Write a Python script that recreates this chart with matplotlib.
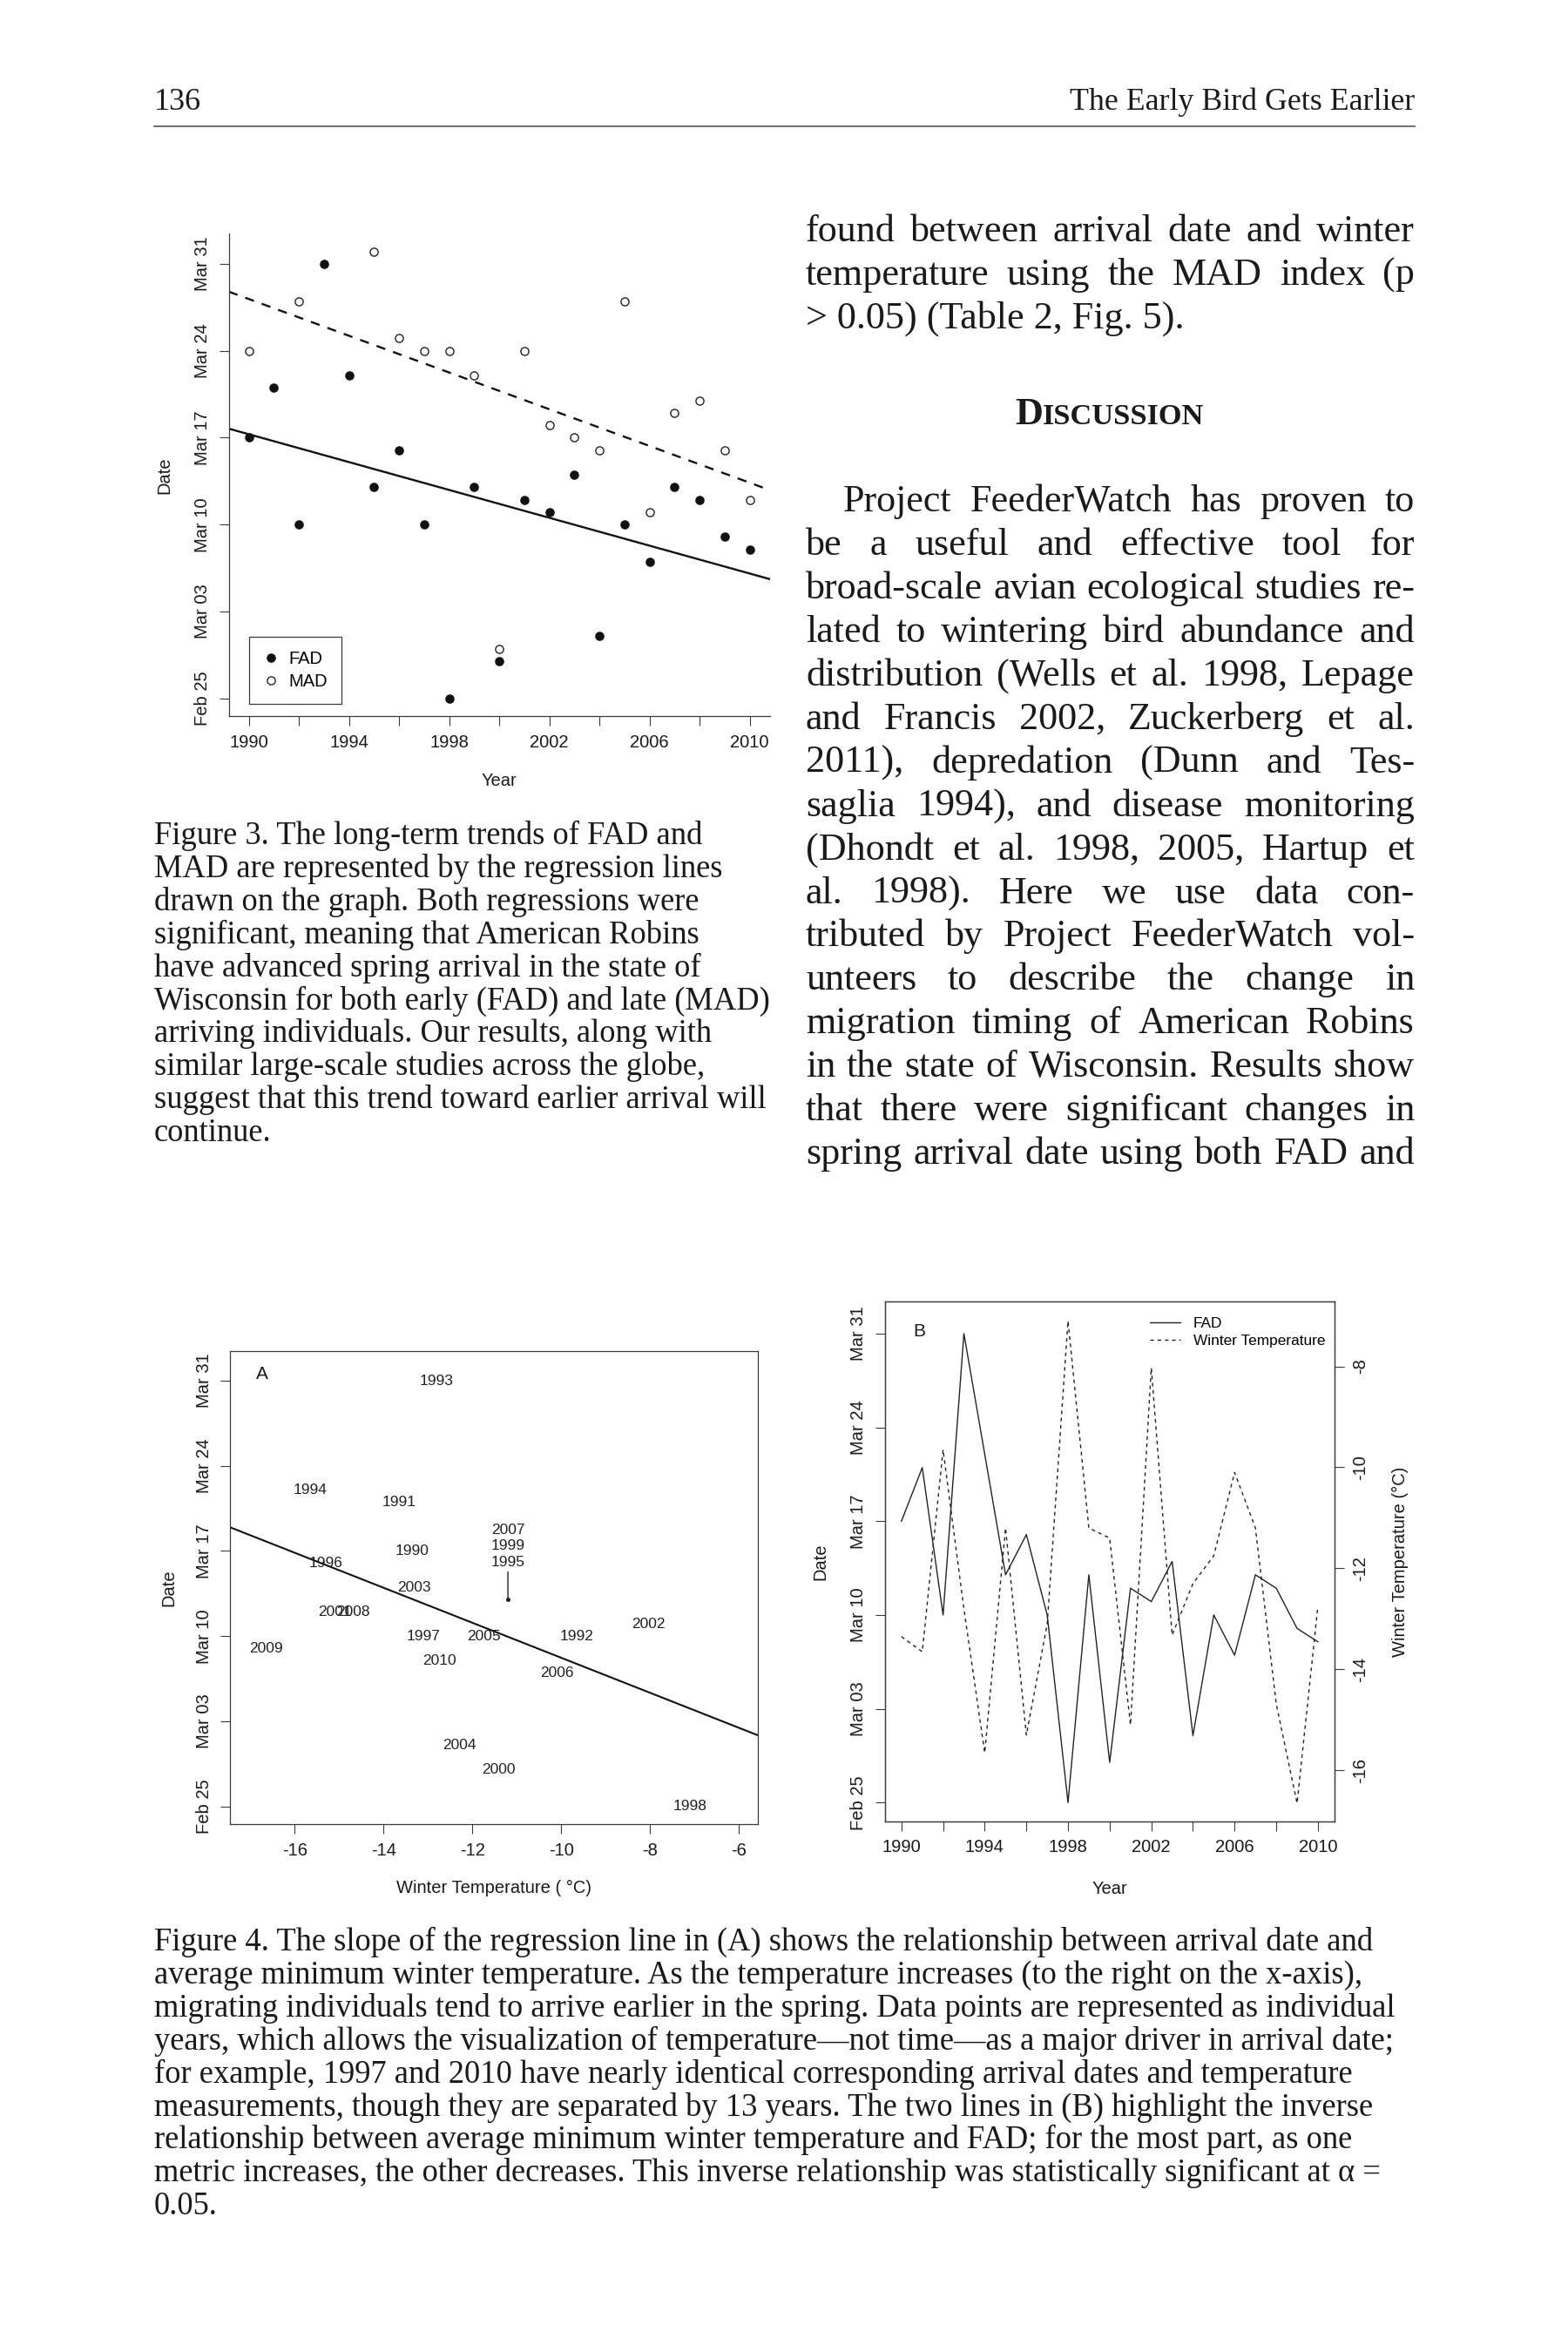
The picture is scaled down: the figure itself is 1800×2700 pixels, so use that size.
import numpy as np
import matplotlib
matplotlib.use("Agg")
import matplotlib.pyplot as plt
from matplotlib.lines import Line2D

# ---- data ----
years = list(range(1990, 2011))
# arrival dates, in days after Mar 10
fad_days = [7, 11, 0, 21, 12, 3, 6, 0, -14, 3, -11, 2, 1, 4, -9, 0, -3, 3, 2, -1, -2]
mad_days = [14, None, 18, None, None, 22, 15, 14, 14, 12, -10, 14, 8, 7, 6, 18, 1, 9, 10, 6, 2]
# average minimum winter temperature (deg C)
winter_temp = [-13.35, -13.65, -9.65, -12.8, -15.65, -11.2, -15.3, -13.1, -7.1, -11.2,
               -11.4, -15.1, -8.03, -13.32, -12.3, -11.75, -10.1, -11.2, -14.68, -16.65, -12.75]
date_ticks = [-14, -7, 0, 7, 14, 21]
date_labels = ["Feb 25", "Mar 03", "Mar 10", "Mar 17", "Mar 24", "Mar 31"]
year_ticks = list(range(1990, 2011, 2))
temp_ticks_a = [-16, -14, -12, -10, -8, -6]
temp_ticks_b = [-16, -14, -12, -10, -8]
mad_trend_slope = -0.74      # days per year, dashed line in Fig. 3
mad_trend_at_2000 = 10.77
stacked_years = [2007, 1999, 1995]   # same point in panel A, labels stacked

header_left = "136"
header_right = "The Early Bird Gets Earlier"
para1 = ["found between arrival date and winter",
         "temperature using the MAD index (p",
         "> 0.05) (Table 2, Fig. 5)."]
para2 = ["Project FeederWatch has proven to",
         "be a useful and effective tool for",
         "broad-scale avian ecological studies re-",
         "lated to wintering bird abundance and",
         "distribution (Wells et al. 1998, Lepage",
         "and Francis 2002, Zuckerberg et al.",
         "2011), depredation (Dunn and Tes-",
         "saglia 1994), and disease monitoring",
         "(Dhondt et al. 1998, 2005, Hartup et",
         "al. 1998). Here we use data con-",
         "tributed by Project FeederWatch vol-",
         "unteers to describe the change in",
         "migration timing of American Robins",
         "in the state of Wisconsin. Results show",
         "that there were significant changes in",
         "spring arrival date using both FAD and"]
cap3 = ["Figure 3. The long-term trends of FAD and",
        "MAD are represented by the regression lines",
        "drawn on the graph. Both regressions were",
        "significant, meaning that American Robins",
        "have advanced spring arrival in the state of",
        "Wisconsin for both early (FAD) and late (MAD)",
        "arriving individuals. Our results, along with",
        "similar large-scale studies across the globe,",
        "suggest that this trend toward earlier arrival will",
        "continue."]
cap4 = ["Figure 4. The slope of the regression line in (A) shows the relationship between arrival date and",
        "average minimum winter temperature. As the temperature increases (to the right on the x-axis),",
        "migrating individuals tend to arrive earlier in the spring. Data points are represented as individual",
        "years, which allows the visualization of temperature\u2014not time\u2014as a major driver in arrival date;",
        "for example, 1997 and 2010 have nearly identical corresponding arrival dates and temperature",
        "measurements, though they are separated by 13 years. The two lines in (B) highlight the inverse",
        "relationship between average minimum winter temperature and FAD; for the most part, as one",
        "metric increases, the other decreases. This inverse relationship was statistically significant at \u03b1 =",
        "0.05."]

# ---- page setup ----
W, H = 1800, 2700
SERIF = ["Liberation Serif", "DejaVu Serif"]
INK = "#1a1a1a"
AX = "#3a3a3a"
plt.rcParams["font.family"] = ["Liberation Sans", "DejaVu Sans"]
plt.rcParams["axes.unicode_minus"] = False

fig = plt.figure(figsize=(18, 27), dpi=100)
fig.patch.set_facecolor("white")
renderer = fig.canvas.get_renderer()


def pos(x, y):
    return x / W, 1 - y / H


def axes_at(left, top, right, bottom):
    return fig.add_axes([left / W, 1 - bottom / H, (right - left) / W, (bottom - top) / H])


def text_width(s, size, weight="normal"):
    t = fig.text(0, 0, s, fontsize=size, family=SERIF, weight=weight)
    w = t.get_window_extent(renderer).width
    t.remove()
    return w


def fit_size(s, width, weight="normal"):
    return 10 * width / text_width(s, 10, weight)


def justify(line, x0, x1, y, size):
    words = line.split()
    objs = [fig.text(0, 0, w, fontsize=size, family=SERIF, va="baseline", color=INK) for w in words]
    widths = [o.get_window_extent(renderer).width for o in objs]
    gap = (x1 - x0 - sum(widths)) / max(len(words) - 1, 1)
    x = x0
    for o, w in zip(objs, widths):
        o.set_position(pos(x, y))
        x += w + gap


def r_axes(ax, box=True):
    for s in ax.spines.values():
        s.set_color(AX)
        s.set_linewidth(0.9)
    if not box:
        ax.spines["top"].set_visible(False)
        ax.spines["right"].set_visible(False)
    ax.tick_params(length=7.7, width=0.8, color=AX, labelsize=14.5, pad=7, labelcolor=INK)


def date_axis(ax):
    ax.set_yticks(date_ticks)
    ax.set_yticklabels(date_labels, rotation=90, va="center")


def year_axis(ax):
    ax.set_xticks(year_ticks)
    ax.set_xticklabels([str(y) if (y - 1990) % 4 == 0 else "" for y in year_ticks])
    ax.set_xlim(1989.2, 2010.8)


# ---- header ----
fig.text(*pos(177, 126), header_left, fontsize=fit_size("136", 54), family=SERIF, color=INK, va="baseline")
fig.text(*pos(1624, 126), header_right, fontsize=fit_size(header_right, 398), family=SERIF,
         color=INK, va="baseline", ha="right")
fig.add_artist(Line2D([177 / W, 1624 / W], [1 - 145 / H] * 2, color="#555555", lw=1.2))

# ---- body text (right column) ----
body = fit_size("FeederWatch", 232)
for i, line in enumerate(para1):
    y = 277 + i * 49.95
    if i < len(para1) - 1:
        justify(line, 925, 1624, y, body)
    else:
        fig.text(*pos(925, y), line, fontsize=body, family=SERIF, color=INK, va="baseline")

d_size, sc_size = body, body * 0.78
wd = text_width("D", d_size, "bold")
ws = text_width("ISCUSSION", sc_size, "bold")
x0 = 1274 - (wd + ws) / 2
fig.text(*pos(x0, 487), "D", fontsize=d_size, family=SERIF, weight="bold", color=INK, va="baseline")
fig.text(*pos(x0 + wd, 487), "ISCUSSION", fontsize=sc_size, family=SERIF, weight="bold",
         color=INK, va="baseline")

for i, line in enumerate(para2):
    justify(line, 968 if i == 0 else 925, 1624, 587 + i * 49.95, body)

# ---- captions ----
cap = fit_size(cap4[0], 1400)
for i, line in enumerate(cap3):
    fig.text(*pos(177, 969 + i * 37.9), line, fontsize=cap, family=SERIF, color=INK, va="baseline")
for i, line in enumerate(cap4):
    fig.text(*pos(177, 2239 + i * 37.9), line, fontsize=cap, family=SERIF, color=INK, va="baseline")

# ---- Figure 3 ----
fad = np.array(fad_days, dtype=float)
mad = np.array([np.nan if v is None else v for v in mad_days], dtype=float)
temp = np.array(winter_temp)

ax3 = axes_at(262.7, 268.2, 883.7, 822.2)
r_axes(ax3, box=False)
ax3.plot(years, fad, "o", ms=6.6, color="#111111", mec="#111111")
ax3.plot(years, mad, "o", ms=6.6, mfc="white", mec="#222222", mew=1.0)
slope, icpt = np.polyfit(years, fad, 1)
ax3.axline((2000, slope * 2000 + icpt), slope=slope, color="#111111", lw=1.7)
ax3.axline((2000, mad_trend_at_2000), slope=mad_trend_slope, color="#111111", lw=1.7,
           ls=(0, (4.5, 4)))
year_axis(ax3)
date_axis(ax3)
ax3.set_ylim(-15.44, 23.44)
ax3.text(-73.5 / 621, 0.5, "Date", transform=ax3.transAxes, rotation=90, ha="center",
         va="center", fontsize=14.5, color=INK)
ax3.text(0.5, -74 / 554, "Year", transform=ax3.transAxes, ha="center", va="center",
         fontsize=14.5, color=INK)
handles = [Line2D([], [], ls="", marker="o", ms=6.6, color="#111111"),
           Line2D([], [], ls="", marker="o", ms=6.6, mfc="white", mec="#222222", mew=1.0)]
leg = ax3.legend(handles, ["FAD", "MAD"], loc="lower left", bbox_to_anchor=(0.037, 0.0256),
                 borderaxespad=0, frameon=True, fancybox=False, edgecolor=AX, framealpha=1,
                 fontsize=14.5, handlelength=0.9, handletextpad=0.55, borderpad=0.8,
                 labelspacing=0.35)
leg.get_frame().set_linewidth(0.9)

# ---- Figure 4A ----
axa = axes_at(264.3, 1551, 869.7, 2094.3)
r_axes(axa)
for yr, t, d in zip(years, temp, fad):
    if yr in stacked_years:
        continue
    axa.text(t, d, str(yr), ha="center", va="center", fontsize=12.5, color="#222222")
idx = [years.index(y) for y in stacked_years]
px0, py0 = temp[idx].mean(), fad[idx].mean()
axa.plot(px0, py0, "o", ms=2.6, color="#222222")
axa.annotate("", xy=(px0, py0), xytext=(0, 23), textcoords="offset points",
             arrowprops=dict(arrowstyle="-", lw=1.0, color="#222222", shrinkA=0, shrinkB=0))
for i, yr in enumerate(stacked_years):
    axa.annotate(str(yr), xy=(px0, py0), xytext=(0, 57.6 - i * 13.3), textcoords="offset points",
                 ha="center", va="center", fontsize=12.5, color="#222222")
sa, ia = np.polyfit(temp, fad, 1)
axa.axline((0, ia), slope=sa, color="#111111", lw=1.5)
axa.set_xticks(temp_ticks_a)
axa.set_xlim(-17.45, -5.58)
date_axis(axa)
axa.set_ylim(-15.48, 23.44)
axa.text(0.061, 0.951, "A", transform=axa.transAxes, ha="center", va="center", fontsize=15, color=INK)
axa.text(-70 / 605.4, 0.5, "Date", transform=axa.transAxes, rotation=90, ha="center",
         va="center", fontsize=14.5, color=INK)
axa.text(0.5, -73 / 543.3, "Winter Temperature ( \u00b0C)", transform=axa.transAxes, ha="center",
         va="center", fontsize=14.5, color=INK)

# ---- Figure 4B ----
axb = axes_at(1015.7, 1493.7, 1532, 2091)
r_axes(axb)
axb.plot(years, fad, "-", lw=1.0, color="#222222")
year_axis(axb)
date_axis(axb)
axb.set_ylim(-15.41, 23.42)
tw = axb.twinx()
r_axes(tw)
tw.plot(years, temp, lw=1.0, ls=(0, (3, 3)), color="#222222")
tw.set_yticks(temp_ticks_b)
tw.set_yticklabels([str(t) for t in temp_ticks_b], rotation=90, va="center")
tw.set_ylim(-17.01, -6.71)
tw.text(0.077, 0.942, "B", transform=tw.transAxes, ha="center", va="center", fontsize=15, color=INK)
tw.text(-73.5 / 516.3, 0.5, "Date", transform=tw.transAxes, rotation=90, ha="center",
        va="center", fontsize=14.5, color=INK)
tw.text(0.5, -77.6 / 597.3, "Year", transform=tw.transAxes, ha="center", va="center",
        fontsize=14.5, color=INK)
tw.text(1 + 75 / 516.3, 0.5, "Winter Temperature (\u00b0C)", transform=tw.transAxes, rotation=90,
        ha="center", va="center", fontsize=14.5, color=INK)
lh = [Line2D([], [], lw=1.0, color="#222222"),
      Line2D([], [], lw=1.0, ls=(0, (3, 3)), color="#222222")]
tw.legend(lh, ["FAD", "Winter Temperature"], loc="upper left", bbox_to_anchor=(0.589, 0.969),
          borderaxespad=0, borderpad=0, frameon=False, fontsize=12.4, handlelength=2.06,
          handletextpad=0.84, labelspacing=0.28)

fig.savefig("out.png", dpi=100, facecolor="white")
